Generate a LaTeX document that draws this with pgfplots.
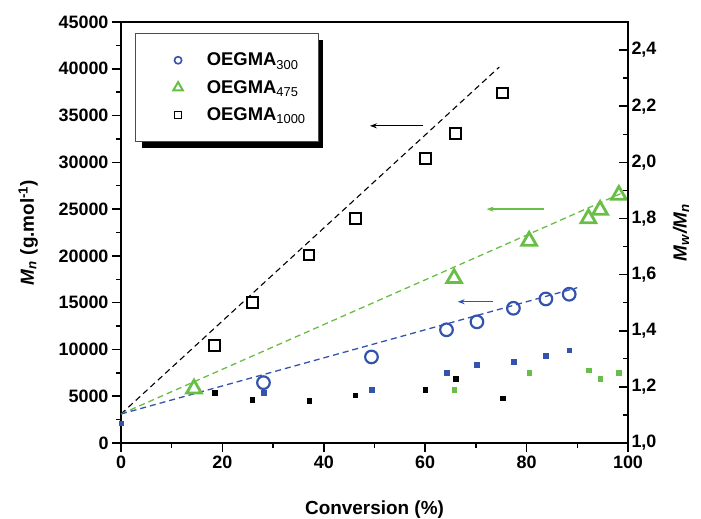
\documentclass[border=0pt]{standalone}
\usepackage{pgfplots}
\pgfplotsset{compat=1.18}
\usepackage{fontspec}
\setmainfont{Liberation Sans}
\usetikzlibrary{arrows.meta}
\definecolor{cblue}{RGB}{52,84,172}
\definecolor{cgreen}{RGB}{104,190,70}
\newcommand{\labfont}{\bfseries\fontsize{19}{22}\selectfont}
\begin{document}
\begin{tikzpicture}
\pgfplotsset{
  common/.style={
    scale only axis, width=507bp, height=421bp,
    xmin=0, xmax=100, clip=false,
    /pgf/number format/assume math mode=true,
    tick label style={font=\bfseries\fontsize{18}{20}\selectfont},
    major tick length=9bp, minor tick length=5bp,
    every tick/.style={black, line width=1.6bp},
    every minor tick/.style={black, line width=1.4bp},
    axis line style={line width=2bp},
  }
}
\begin{axis}[common,
  ymin=0, ymax=45000,
  xtick={0,20,...,100}, minor x tick num=1,
  ytick={0,5000,...,45000}, minor y tick num=1,
  xtick pos=bottom, ytick pos=left, tick align=outside,
  scaled y ticks=false,
  /pgf/number format/1000 sep={},
  xlabel={Conversion (\%)},
  ylabel={\textit{M}\textsubscript{\textit{n}} (g.mol\textsuperscript{-1})},
  every axis x label/.style={at={(axis description cs:0.5,-0.159)}, anchor=center, font=\labfont},
  every axis y label/.style={at={(axis description cs:-0.183,0.5)}, rotate=90, anchor=center, font=\labfont},
  legend style={at={(axis description cs:0.1028,0.9314)}, anchor=north west,
    draw=none, fill=none, font=\bfseries\fontsize{18.5}{21}\selectfont,
    row sep=9bp, inner sep=0pt},
  legend cell align=left,
]
\coordinate (ll) at (rel axis cs:0,0);
\coordinate (ur) at (rel axis cs:1,1);
% legend box with shadow
\fill[black] (axis description cs:{(141.7-121)/507},{(443-148.3)/421}) rectangle (axis description cs:{(322.7-121)/507},{(443-40)/421});
\filldraw[fill=white, draw=black!70, line width=0.8bp] (axis description cs:{(135.7-121)/507},{(443-141.7)/421}) rectangle (axis description cs:{(318.3-121)/507},{(443-33.3)/421});

\addlegendimage{only marks, mark=o, mark size=3.6bp, mark options={line width=1.6bp}, color=cblue}
\addlegendentry{\hspace*{22bp}OEGMA\textsubscript{\normalfont 300}}
\addlegendimage{only marks, mark=triangle, mark size=5.5bp, mark options={line width=2bp}, color=cgreen}
\addlegendentry{\hspace*{22bp}OEGMA\textsubscript{\normalfont 475}}
\addlegendimage{only marks, mark=square, mark size=3.6bp, mark options={line width=1.4bp}, color=black}
\addlegendentry{\hspace*{22bp}OEGMA\textsubscript{\normalfont 1000}}

% fit lines
\addplot[black, line width=1.1bp, dash pattern=on 6bp off 4bp, forget plot] coordinates {(0,3100) (74.6,40180)};
\addplot[cgreen, line width=1.3bp, dash pattern=on 6bp off 4bp, forget plot] coordinates {(0,3100) (98.5,26640)};
\addplot[cblue, line width=1.3bp, dash pattern=on 6bp off 4bp, forget plot] coordinates {(0,3100) (90,16600)};

% Mn data
\addplot[only marks, mark=o, color=cblue, mark size=6.3bp, mark options={line width=2.2bp}, forget plot] coordinates {
(28.1,6450) (49.4,9200) (64.2,12100) (70.2,12950) (77.4,14400) (83.8,15400) (88.4,15900)};
\addplot[only marks, mark=triangle, color=cgreen, mark size=8.5bp, mark options={line width=2.8bp}, forget plot] coordinates {
(14.4,5800) (65.7,17600) (80.5,21600) (92.2,24000) (94.5,24900) (98.2,26500)};
\addplot[only marks, mark=square, color=black, mark size=5.3bp, mark options={line width=2bp}, forget plot] coordinates {
(18.5,10400) (25.9,15000) (37.1,20100) (46.2,24000) (60.0,30400) (66.0,33100) (75.3,37400)};

% arrows
\draw[black, line width=1.2bp, -{Stealth[length=7bp,width=5bp]}] (axis cs:59.6,33900) -- (axis cs:49.1,33900);
\draw[cgreen, line width=1.4bp, -{Stealth[length=7bp,width=5bp]}] (axis cs:83.4,25000) -- (axis cs:72.1,25000);
\draw[cblue, line width=1.4bp, -{Stealth[length=7bp,width=5bp]}] (axis cs:73.4,15100) -- (axis cs:66.4,15100);
\end{axis}

\begin{axis}[common,
  ymin=1.0, ymax=2.5,
  axis x line=none, axis y line*=right,
  ytick={1.0,1.2,...,2.41}, minor y tick num=1,
  ytick align=inside,
  /pgf/number format/fixed, /pgf/number format/fixed zerofill,
  /pgf/number format/precision=1, /pgf/number format/use comma,
  ylabel={\textit{M}\textsubscript{\textit{w}}\textit{/M}\textsubscript{\textit{n}}},
  every axis y label/.style={at={(axis description cs:1.1045,0.5)}, rotate=90, anchor=center, font=\labfont},
]
\addplot[only marks, mark=square*, color=cblue, mark size=2.3bp] coordinates {
(0,1.07) (28.1,1.18) (49.4,1.19) (64.2,1.25) (70.2,1.28) (77.4,1.29) (83.8,1.31) (88.4,1.33)};
\addplot[only marks, mark=square*, color=black, mark size=2.3bp] coordinates {
(18.5,1.18) (25.9,1.155) (37.1,1.15) (46.2,1.17) (60.0,1.19) (66.0,1.23) (75.3,1.16)};
\addplot[only marks, mark=square*, color=cgreen, mark size=2.3bp] coordinates {
(65.7,1.19) (80.5,1.25) (92.2,1.26) (94.5,1.23) (98.2,1.25)};
\end{axis}

\pgfresetboundingbox
\path[use as bounding box] ([shift={(-121bp,-76bp)}]ll) rectangle ([shift={(73bp,22bp)}]ur);
\end{tikzpicture}
\end{document}
